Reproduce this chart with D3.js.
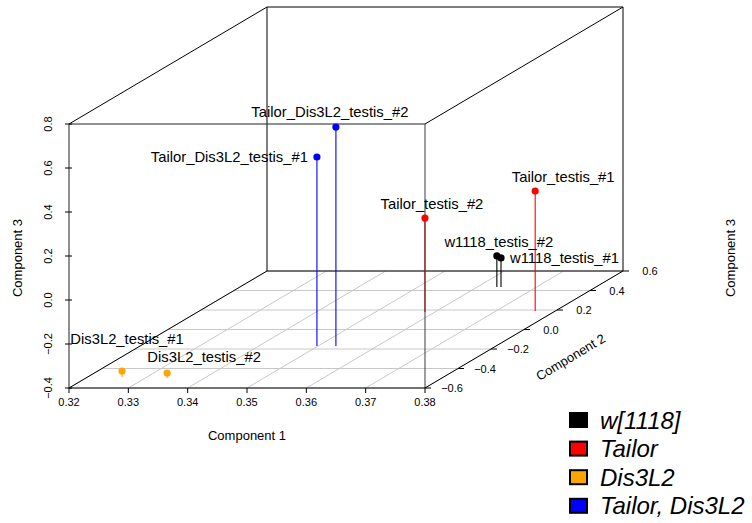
<!DOCTYPE html>
<html>
<head>
<meta charset="utf-8">
<script src="https://cdn.jsdelivr.net/npm/d3@7"></script>
<style>
  html, body { margin: 0; padding: 0; background: #fff; }
  svg { display: block; font-family: "Liberation Sans", Arial, Helvetica, sans-serif; }
</style>
</head>
<body>
<svg id="chart" width="752" height="523"></svg>
<script>
// PCA of testis samples: first three components
const samples = [
  "Tailor_Dis3L2_testis_#2", "Tailor_Dis3L2_testis_#1",
  "Tailor_testis_#2", "Tailor_testis_#1",
  "w1118_testis_#2", "w1118_testis_#1",
  "Dis3L2_testis_#1", "Dis3L2_testis_#2"
];
const component1 = [0.3530, 0.3498, 0.3583, 0.3766, 0.3633, 0.3640, 0.3258, 0.3337];
const component2 = [-0.169, -0.169, 0.180, 0.190, 0.436, 0.436, -0.487, -0.498];
const component3 = [0.595, 0.459, 0.027, 0.145, -0.259, -0.268, -0.373, -0.377];
const genotype = ["Tailor, Dis3L2", "Tailor, Dis3L2", "Tailor", "Tailor",
                  "w[1118]", "w[1118]", "Dis3L2", "Dis3L2"];

const genotypes = ["w[1118]", "Tailor", "Dis3L2", "Tailor, Dis3L2"];
const genotypeColors = ["#000000", "#FF0000", "#FFA500", "#0000FF"];

const ticks1 = [0.32, 0.33, 0.34, 0.35, 0.36, 0.37, 0.38];
const ticks2 = [-0.6, -0.4, -0.2, 0.0, 0.2, 0.4, 0.6];
const ticks3 = [-0.4, -0.2, 0.0, 0.2, 0.4, 0.6, 0.8];

// label placement around each point (pixels)
const labelDx = [-6, -9, 7, 28, 2, 9, 5, 37];
const labelDy = [-15, 0, -14, -14, -14, 0, -32, -16];
const labelAnchor = ["middle", "end", "middle", "middle", "middle", "start", "middle", "middle"];

const svg = d3.select("#chart");
const color = d3.scaleOrdinal(genotypes, genotypeColors);

// front face scales and the oblique depth offset
const sx = d3.scaleLinear([0.32, 0.38], [69, 425]);
const sz = d3.scaleLinear([-0.4, 0.8], [388, 124]);
const sd = d3.scaleLinear([-0.6, 0.6], [0, 1]);
const DX = 198, DY = -117;
const proj = (x, y, z) => [sx(x) + sd(y) * DX, sz(z) + sd(y) * DY];

const line = (a, b, stroke, w = 1, op = 1) => svg.append("line")
  .attr("x1", a[0]).attr("y1", a[1]).attr("x2", b[0]).attr("y2", b[1])
  .attr("stroke", stroke).attr("stroke-width", w).attr("stroke-opacity", op);

const x0 = 0.32, x1 = 0.38, y0 = -0.6, y1 = 0.6, z0 = -0.4, z1 = 0.8;

// floor grid
ticks2.forEach(t => line(proj(x0, t, z0), proj(x1, t, z0), "#c8c8c8"));
ticks1.forEach(t => line(proj(t, y0, z0), proj(t, y1, z0), "#c8c8c8"));

// box
line(proj(x0, y1, z0), proj(x1, y1, z0), "#000");
line(proj(x0, y1, z0), proj(x0, y1, z1), "#000");
line(proj(x1, y1, z0), proj(x1, y1, z1), "#000");
line(proj(x0, y1, z1), proj(x1, y1, z1), "#000");
line(proj(x0, y0, z1), proj(x0, y1, z1), "#000");
line(proj(x1, y0, z1), proj(x1, y1, z1), "#000");
line(proj(x0, y0, z1), proj(x1, y0, z1), "#222");
line(proj(x0, y0, z0), proj(x0, y1, z0), "#000");

// drop lines
const idx = d3.range(samples.length);
idx.forEach(i => {
  const p = proj(component1[i], component2[i], component3[i]);
  const f = proj(component1[i], component2[i], z0);
  line(p, f, color(genotype[i]), 1.1);
});
// front edges and axes on top
line(proj(x1, y0, z0), proj(x1, y0, z1), "#333", 1.6, 0.6);
line(proj(x0, y0, z0), proj(x1, y0, z0), "#000");
line(proj(x0, y0, z0), proj(x0, y0, z1), "#222");
line(proj(x1, y0, z0), proj(x1, y1, z0), "#000");

svg.append("g").selectAll("circle").data(idx).join("circle")
  .attr("cx", i => proj(component1[i], component2[i], component3[i])[0])
  .attr("cy", i => proj(component1[i], component2[i], component3[i])[1])
  .attr("r", 3.6)
  .attr("fill", i => color(genotype[i]));

// axis ticks and labels
const tickFont = 11;
const fmt = t => t === 0 ? "0.0" : d3.format(".1f")(t).replace("-", "\u2212");
ticks1.forEach(t => {
  const p = proj(t, y0, z0);
  line(p, [p[0], p[1] + 5], "#000");
  svg.append("text").attr("x", p[0]).attr("y", p[1] + 18)
    .attr("text-anchor", "middle").attr("font-size", tickFont).text(d3.format(".2f")(t));
});
ticks3.forEach(t => {
  const p = proj(x0, y0, t);
  line([p[0] - 4, p[1]], [p[0] + 3, p[1]], "#000");
  svg.append("text").attr("transform", `translate(${p[0] - 17},${p[1]}) rotate(-90)`)
    .attr("text-anchor", "middle").attr("font-size", tickFont).text(fmt(t));
});
ticks2.forEach(t => {
  const p = proj(x1, t, z0);
  line(p, [p[0] + 6, p[1]], "#000");
  svg.append("text").attr("x", p[0] + 27).attr("y", p[1] + 4)
    .attr("text-anchor", "middle").attr("font-size", tickFont).text(fmt(t));
});

// axis titles
svg.append("text").attr("x", 247).attr("y", 440).attr("text-anchor", "middle")
  .attr("font-size", 13).text("Component 1");
svg.append("text").attr("transform", "translate(573,361) rotate(-31)")
  .attr("text-anchor", "middle").attr("font-size", 13).text("Component 2");
svg.append("text").attr("transform", "translate(22,258) rotate(-90)")
  .attr("text-anchor", "middle").attr("font-size", 13).text("Component 3");
svg.append("text").attr("transform", "translate(735,258) rotate(-90)")
  .attr("text-anchor", "middle").attr("font-size", 13).text("Component 3");

// sample labels
svg.append("g").selectAll("text").data(idx).join("text")
  .attr("x", i => proj(component1[i], component2[i], component3[i])[0] + labelDx[i])
  .attr("y", i => proj(component1[i], component2[i], component3[i])[1] + labelDy[i])
  .attr("dy", "0.35em")
  .attr("text-anchor", i => labelAnchor[i])
  .attr("font-size", 14.8)
  .text(i => samples[i]);

// legend
const lg = svg.append("g").attr("transform", "translate(570,413)");
genotypes.forEach((g, k) => {
  lg.append("rect").attr("x", 0).attr("y", k * 28.6).attr("width", 17).attr("height", 14)
    .attr("fill", genotypeColors[k]).attr("stroke", "#000").attr("stroke-width", 2);
  lg.append("text").attr("x", 30).attr("y", k * 28.6 + 7).attr("dy", "0.36em")
    .attr("font-size", 24).attr("font-style", "italic").text(g);
});
</script>
</body>
</html>
